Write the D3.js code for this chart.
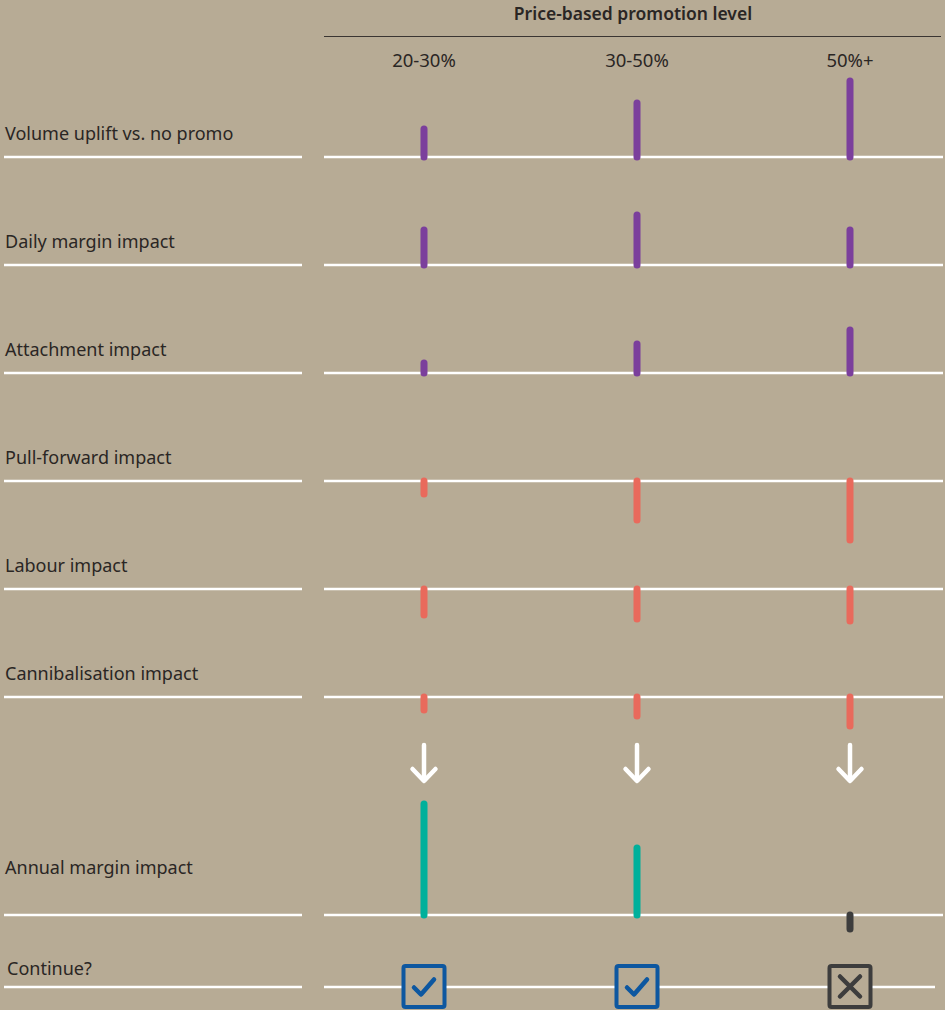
<!DOCTYPE html>
<html>
<head>
<meta charset="utf-8">
<script src="https://cdn.jsdelivr.net/npm/d3@7"></script>
<style>
  html, body { margin: 0; padding: 0; background: #b7ab95; }
  svg { display: block; }
  text { font-family: "Noto Sans", "Open Sans", sans-serif; fill: #2a2624; }
</style>
</head>
<body>
<div id="chart"></div>
<script>
// Promotion depth columns
const promoLevels = ["20-30%", "30-50%", "50%+"];

// Impact rows (relative size of effect, positive up / negative down)
const impactRows = [
  "Volume uplift vs. no promo",
  "Daily margin impact",
  "Attachment impact",
  "Pull-forward impact",
  "Labour impact",
  "Cannibalisation impact"
];
const volumeUplift = [28, 54, 76];
const dailyMargin = [35, 50, 35];
const attachment = [10, 29, 43];
const pullForward = [-13, -39, -59];
const labour = [-26, -30, -32];
const cannibalisation = [-13, -19, -29];

const annualLabel = "Annual margin impact";
const annualMargin = [111, 67, -14];

const continueLabel = "Continue?";
const continueDecision = [true, true, false];

const headerTitle = "Price-based promotion level";

const W = 945, H = 1010;
const C = {
  bg: "#b7ab95",
  purple: "#7b3f9c",
  salmon: "#e96a5c",
  teal: "#00b09b",
  grey: "#3d3d3d",
  blue: "#0d57a0",
  white: "#ffffff"
};

const svg = d3.select("#chart").append("svg")
  .attr("width", W).attr("height", H);

svg.append("rect").attr("width", W).attr("height", H).attr("fill", C.bg);

// Column positions
const x = d3.scalePoint().domain(promoLevels).range([424, 850]);

// Row baselines for the six driver rows
const yRow = d3.scalePoint().domain(impactRows).range([157, 697]);
const yAnnual = 915;
const yContinue = 987;

// Bar length scale (units -> px)
const len = d3.scaleLinear().domain([0, 100]).range([0, 100]);

// Header
svg.append("text")
  .attr("x", 633).attr("y", 19.5)
  .attr("text-anchor", "middle")
  .attr("font-size", 17.5).attr("font-weight", 600)
  .text(headerTitle);

svg.append("line")
  .attr("x1", 324).attr("x2", 941).attr("y1", 36.5).attr("y2", 36.5)
  .attr("stroke", "#3a3532").attr("stroke-width", 1.2);

svg.selectAll("text.col").data(promoLevels).join("text")
  .attr("class", "col")
  .attr("x", d => x(d)).attr("y", 67)
  .attr("text-anchor", "middle")
  .attr("font-size", 18.5)
  .text(d => d);

function rowLine(y, rightEnd) {
  svg.append("line").attr("x1", 4).attr("x2", 302).attr("y1", y).attr("y2", y)
    .attr("stroke", C.white).attr("stroke-width", 2.6);
  svg.append("line").attr("x1", 324).attr("x2", rightEnd).attr("y1", y).attr("y2", y)
    .attr("stroke", C.white).attr("stroke-width", 2.6);
}

function rowLabel(y, label, x0) {
  svg.append("text").attr("x", x0 || 5).attr("y", y).attr("font-size", 18).text(label);
}

const rowValues = [volumeUplift, dailyMargin, attachment, pullForward, labour, cannibalisation];

// Baselines and labels
impactRows.forEach((r) => {
  rowLine(yRow(r), 943);
  rowLabel(yRow(r) - 17, r);
});
rowLine(yAnnual, 943);
rowLabel(yAnnual - 41, annualLabel);
rowLine(yContinue, 935);
rowLabel(yContinue - 12, continueLabel, 7);

// Driver bars
impactRows.forEach((r, i) => {
  const base = yRow(r);
  svg.append("g").selectAll("line").data(rowValues[i]).join("line")
    .attr("x1", (d, j) => x(promoLevels[j]))
    .attr("x2", (d, j) => x(promoLevels[j]))
    .attr("y1", base)
    .attr("y2", d => base - Math.sign(d) * len(Math.abs(d)))
    .attr("stroke", d => d >= 0 ? C.purple : C.salmon)
    .attr("stroke-width", 7)
    .attr("stroke-linecap", "round");
});

// Arrows leading to the annual result
const arrows = svg.append("g").selectAll("g").data(promoLevels).join("g")
  .attr("transform", d => `translate(${x(d)},0)`);
arrows.append("line")
  .attr("x1", 0).attr("x2", 0).attr("y1", 745).attr("y2", 780)
  .attr("stroke", C.white).attr("stroke-width", 4.5).attr("stroke-linecap", "round");
arrows.append("path")
  .attr("d", "M-11.5,769 L0,781 L11.5,769")
  .attr("fill", "none").attr("stroke", C.white).attr("stroke-width", 4.5)
  .attr("stroke-linecap", "round").attr("stroke-linejoin", "round");

// Annual margin bars
svg.append("g").selectAll("line").data(annualMargin).join("line")
  .attr("x1", (d, j) => x(promoLevels[j]))
  .attr("x2", (d, j) => x(promoLevels[j]))
  .attr("y1", yAnnual)
  .attr("y2", d => yAnnual - Math.sign(d) * len(Math.abs(d)))
  .attr("stroke", d => d >= 0 ? C.teal : C.grey)
  .attr("stroke-width", 7)
  .attr("stroke-linecap", "round");

// Continue? check boxes
const boxes = svg.append("g").selectAll("g").data(continueDecision).join("g")
  .attr("transform", (d, j) => `translate(${x(promoLevels[j])},${yContinue - 0.5})`);
boxes.append("rect")
  .attr("x", -20.5).attr("y", -20.5).attr("width", 41).attr("height", 41)
  .attr("rx", 2)
  .attr("fill", C.bg)
  .attr("stroke", d => d ? C.blue : C.grey)
  .attr("stroke-width", 4);
boxes.filter(d => d).append("path")
  .attr("d", "M-10,1 L-3,8 L10,-7")
  .attr("fill", "none").attr("stroke", C.blue).attr("stroke-width", 4.5)
  .attr("stroke-linecap", "round").attr("stroke-linejoin", "round");
boxes.filter(d => !d).append("path")
  .attr("d", "M-10,-10 L10,10 M10,-10 L-10,10")
  .attr("fill", "none").attr("stroke", C.grey).attr("stroke-width", 4.5)
  .attr("stroke-linecap", "round");
</script>
</body>
</html>
